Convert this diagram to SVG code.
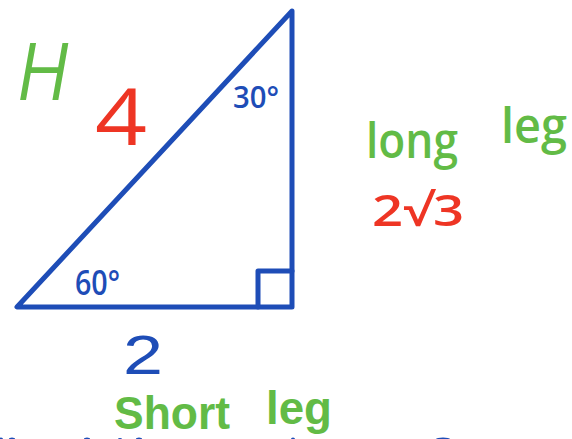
<svg xmlns="http://www.w3.org/2000/svg" width="572" height="439" viewBox="0 0 572 439">
  <style>
    .blue { fill: #1e4db7; }
    .green { fill: #62bb46; }
    .red { fill: #ee3524; }
    text { font-family: "Open Sans", "Liberation Sans", sans-serif; }
    .lib { font-family: "Liberation Sans", "Open Sans", sans-serif; }
    .thick { font-weight: 600; }
    .edge { fill: none; stroke: #1e4db7; stroke-width: 5; stroke-linecap: round; stroke-linejoin: round; }
  </style>
  <rect width="572" height="439" fill="#ffffff"/>

  <g id="connectors">
    <path id="triangle" class="edge" d="M17,307 L292,307 L292,11 Z"/>
    <path id="right-angle" class="edge" d="M258,307 L258,271 L292,271"/>
  </g>

  <g id="label-H">
    <text class="green" x="14" y="100" font-size="80" textLength="52" lengthAdjust="spacingAndGlyphs" transform="skewX(-10) translate(17,0)">H</text>
  </g>
  <g id="label-hyp">
    <text class="red" x="95" y="145" font-size="78" textLength="52" lengthAdjust="spacingAndGlyphs">4</text>
  </g>
  <g id="angle-30">
    <text class="blue thick" x="233" y="108" font-size="31" textLength="46" lengthAdjust="spacingAndGlyphs">30°</text>
  </g>
  <g id="angle-60">
    <text class="blue thick" x="75" y="295" font-size="34" textLength="45" lengthAdjust="spacingAndGlyphs">60°</text>
  </g>
  <g id="label-short">
    <text class="blue lib" x="123" y="374" font-size="56" textLength="40" lengthAdjust="spacingAndGlyphs">2</text>
  </g>
  <g id="label-long">
    <text class="red thick" x="372" y="226" font-size="44" textLength="92" lengthAdjust="spacingAndGlyphs">2√3</text>
  </g>
  <g id="text-long-leg">
    <text class="green thick" x="366" y="158" font-size="48" textLength="92" lengthAdjust="spacingAndGlyphs">long</text>
    <text class="green thick" x="501" y="143" font-size="48" textLength="66" lengthAdjust="spacingAndGlyphs">leg</text>
  </g>
  <g id="text-short-leg">
    <text class="green lib" x="114" y="429" font-size="47" font-weight="bold" textLength="116" lengthAdjust="spacingAndGlyphs">Short</text>
    <text class="green lib" x="266" y="424" font-size="47" font-weight="bold" textLength="66" lengthAdjust="spacingAndGlyphs">leg</text>
  </g>
  <g id="cut-off-marks" class="blue">
    <ellipse cx="1" cy="439" rx="2" ry="1.5"/>
    <ellipse cx="12" cy="439" rx="3" ry="1.5"/>
    <ellipse cx="87" cy="439" rx="3" ry="1.5"/>
    <ellipse cx="120" cy="439" rx="2" ry="1"/>
    <ellipse cx="139" cy="439" rx="3" ry="1.5"/>
    <ellipse cx="293" cy="439" rx="2" ry="1.5"/>
    <ellipse cx="443" cy="439" rx="7" ry="1.5"/>
  </g>
</svg>
